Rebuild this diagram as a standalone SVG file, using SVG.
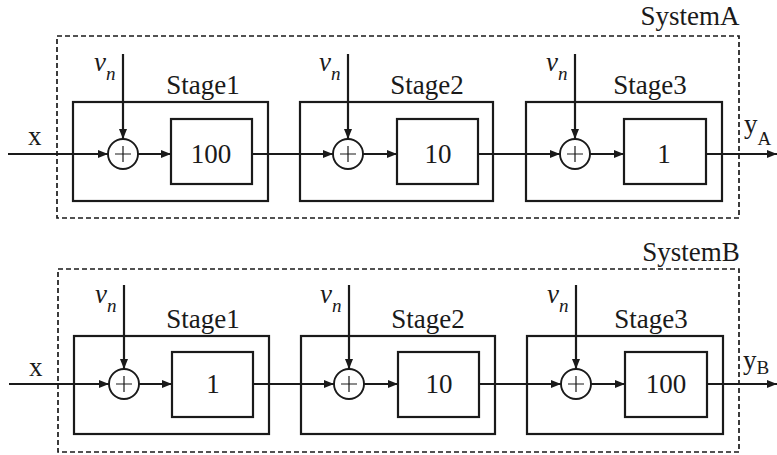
<svg xmlns="http://www.w3.org/2000/svg" width="777" height="455" viewBox="0 0 777 455" font-family="'Liberation Serif', 'DejaVu Serif', serif">
<style>
.sys{fill:none;stroke:#1a1a1a;stroke-width:1.7;stroke-dasharray:5 3}
.box{fill:none;stroke:#1a1a1a;stroke-width:2.2}
.sum{fill:#fff;stroke:#1a1a1a;stroke-width:1.9}
.plus{stroke:#1a1a1a;stroke-width:1.2}
.w{fill:none;stroke:#1a1a1a;stroke-width:2.2}
text{font-family:'Liberation Serif','DejaVu Serif',serif;fill:#1a1a1a}
.lbl{font-size:27px}
.mid{text-anchor:middle}
.nu{font-size:27px;font-style:italic}
.sub{font-size:19px}
.subi{font-size:19px;font-style:italic}
</style>
<defs>
<marker id="ah" viewBox="0 0 10 8" refX="10" refY="4" markerWidth="10" markerHeight="8" markerUnits="userSpaceOnUse" orient="auto">
<path d="M0,0 L10,4 L0,8 z" fill="#1a1a1a"/>
</marker>
</defs>
<rect width="777" height="455" fill="#fff"/>

<g id="systemA">
<rect class="sys" x="57" y="36" width="682" height="182"/>
<text class="lbl mid" x="690" y="25">SystemA</text>
</g>
<g id="A_stage1">
<rect class="box" x="73" y="102" width="195" height="99"/>
<text class="lbl mid" x="203" y="94">Stage1</text>
</g>
<g id="A_sum1">
<circle class="sum" cx="123" cy="154" r="15"/>
<path class="plus" d="M115,154h16M123,146v16"/>
</g>
<g id="A_gain1">
<rect class="box" x="171" y="119" width="81" height="65"/>
<text class="lbl mid" x="211" y="163">100</text>
</g>
<g id="A_stage2">
<rect class="box" x="300" y="102" width="193" height="99"/>
<text class="lbl mid" x="427" y="94">Stage2</text>
</g>
<g id="A_sum2">
<circle class="sum" cx="348" cy="154" r="15"/>
<path class="plus" d="M340,154h16M348,146v16"/>
</g>
<g id="A_gain2">
<rect class="box" x="397" y="119" width="81" height="65"/>
<text class="lbl mid" x="438" y="163">10</text>
</g>
<g id="A_stage3">
<rect class="box" x="526" y="102" width="196" height="99"/>
<text class="lbl mid" x="650" y="94">Stage3</text>
</g>
<g id="A_sum3">
<circle class="sum" cx="575" cy="154" r="15"/>
<path class="plus" d="M567,154h16M575,146v16"/>
</g>
<g id="A_gain3">
<rect class="box" x="624" y="119" width="82" height="65"/>
<text class="lbl mid" x="664" y="163">1</text>
</g>
<g id="A_labels">
<text class="lbl" x="28" y="145">x</text>
<text x="744" y="133"><tspan class="lbl">y</tspan><tspan class="sub" dy="12">A</tspan></text>
<text x="94" y="71"><tspan class="nu">ν</tspan><tspan class="subi" dy="9">n</tspan></text>
<text x="319" y="71"><tspan class="nu">ν</tspan><tspan class="subi" dy="9">n</tspan></text>
<text x="546" y="71"><tspan class="nu">ν</tspan><tspan class="subi" dy="9">n</tspan></text>
</g>

<g id="systemB">
<rect class="sys" x="58" y="269" width="681" height="183"/>
<text class="lbl mid" x="691" y="261">SystemB</text>
</g>
<g id="B_stage1">
<rect class="box" x="74" y="336" width="195" height="98"/>
<text class="lbl mid" x="203" y="328">Stage1</text>
</g>
<g id="B_sum1">
<circle class="sum" cx="124" cy="384" r="15"/>
<path class="plus" d="M116,384h16M124,376v16"/>
</g>
<g id="B_gain1">
<rect class="box" x="172" y="352" width="81" height="65"/>
<text class="lbl mid" x="213" y="393">1</text>
</g>
<g id="B_stage2">
<rect class="box" x="301" y="336" width="194" height="98"/>
<text class="lbl mid" x="428" y="328">Stage2</text>
</g>
<g id="B_sum2">
<circle class="sum" cx="349" cy="384" r="15"/>
<path class="plus" d="M341,384h16M349,376v16"/>
</g>
<g id="B_gain2">
<rect class="box" x="398" y="352" width="81" height="65"/>
<text class="lbl mid" x="439" y="393">10</text>
</g>
<g id="B_stage3">
<rect class="box" x="527" y="336" width="196" height="98"/>
<text class="lbl mid" x="651" y="328">Stage3</text>
</g>
<g id="B_sum3">
<circle class="sum" cx="576" cy="384" r="15"/>
<path class="plus" d="M568,384h16M576,376v16"/>
</g>
<g id="B_gain3">
<rect class="box" x="625" y="352" width="82" height="65"/>
<text class="lbl mid" x="666" y="393">100</text>
</g>
<g id="B_labels">
<text class="lbl" x="29" y="376">x</text>
<text x="743" y="369"><tspan class="lbl">y</tspan><tspan class="sub" dy="5">B</tspan></text>
<text x="95" y="303"><tspan class="nu">ν</tspan><tspan class="subi" dy="9">n</tspan></text>
<text x="320" y="303"><tspan class="nu">ν</tspan><tspan class="subi" dy="9">n</tspan></text>
<text x="547" y="303"><tspan class="nu">ν</tspan><tspan class="subi" dy="9">n</tspan></text>
</g>

<g id="connectors">
<path class="w" d="M8,154H108" marker-end="url(#ah)"/>
<path class="w" d="M138,154H171" marker-end="url(#ah)"/>
<path class="w" d="M252,154H333" marker-end="url(#ah)"/>
<path class="w" d="M363,154H397" marker-end="url(#ah)"/>
<path class="w" d="M478,154H560" marker-end="url(#ah)"/>
<path class="w" d="M590,154H624" marker-end="url(#ah)"/>
<path class="w" d="M706,154H777" marker-end="url(#ah)"/>
<path class="w" d="M123,54V139" marker-end="url(#ah)"/>
<path class="w" d="M348,54V139" marker-end="url(#ah)"/>
<path class="w" d="M575,54V139" marker-end="url(#ah)"/>

<path class="w" d="M9,384H109" marker-end="url(#ah)"/>
<path class="w" d="M139,384H172" marker-end="url(#ah)"/>
<path class="w" d="M253,384H334" marker-end="url(#ah)"/>
<path class="w" d="M364,384H398" marker-end="url(#ah)"/>
<path class="w" d="M479,384H561" marker-end="url(#ah)"/>
<path class="w" d="M591,384H625" marker-end="url(#ah)"/>
<path class="w" d="M707,384H777" marker-end="url(#ah)"/>
<path class="w" d="M124,285V369" marker-end="url(#ah)"/>
<path class="w" d="M349,285V369" marker-end="url(#ah)"/>
<path class="w" d="M576,285V369" marker-end="url(#ah)"/>
</g>
</svg>
